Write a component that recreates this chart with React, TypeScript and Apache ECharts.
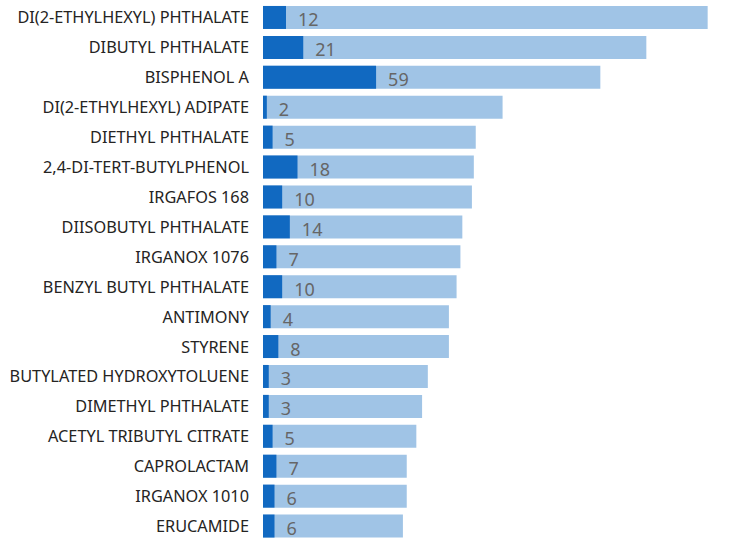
import React, { useEffect, useRef } from "react";
import * as echarts from "echarts";

const categories = [
  "DI(2-ETHYLHEXYL) PHTHALATE",
  "DIBUTYL PHTHALATE",
  "BISPHENOL A",
  "DI(2-ETHYLHEXYL) ADIPATE",
  "DIETHYL PHTHALATE",
  "2,4-DI-TERT-BUTYLPHENOL",
  "IRGAFOS 168",
  "DIISOBUTYL PHTHALATE",
  "IRGANOX 1076",
  "BENZYL BUTYL PHTHALATE",
  "ANTIMONY",
  "STYRENE",
  "BUTYLATED HYDROXYTOLUENE",
  "DIMETHYL PHTHALATE",
  "ACETYL TRIBUTYL CITRATE",
  "CAPROLACTAM",
  "IRGANOX 1010",
  "ERUCAMIDE",
];

const totalValues = [232, 200, 176, 125, 111, 110, 109, 104, 103, 101, 97, 97, 86, 83, 80, 75, 75, 73];
const highlightValues = [12, 21, 59, 2, 5, 18, 10, 14, 7, 10, 4, 8, 3, 3, 5, 7, 6, 6];

const FONT = "'Segoe UI', 'Noto Sans', 'Open Sans', sans-serif";

export default function App() {
  const ref = useRef<HTMLDivElement>(null);

  useEffect(() => {
    document.body.style.margin = "0";
    if (!ref.current) return;
    const chart = echarts.init(ref.current, undefined, { renderer: "svg" });
    chart.setOption({
      animation: false,
      backgroundColor: "#ffffff",
      grid: { left: 263, top: 2.5, width: 460, height: 540, containLabel: false },
      xAxis: {
        type: "value",
        min: 0,
        max: 240,
        show: false,
      },
      yAxis: {
        type: "category",
        data: categories,
        inverse: true,
        axisLine: { show: false },
        axisTick: { show: false },
        splitLine: { show: false },
        axisLabel: {
          margin: 14,
          fontSize: 16.3,
          fontFamily: FONT,
          color: "#252423",
        },
      },
      series: [
        {
          type: "bar",
          data: totalValues,
          barWidth: 23,
          barGap: "-100%",
          itemStyle: { color: "#A0C4E6" },
          silent: true,
        },
        {
          type: "bar",
          data: highlightValues,
          barWidth: 23,
          itemStyle: { color: "#1169C1" },
          label: {
            show: true,
            position: "right",
            distance: 12,
            offset: [0, 2],
            fontSize: 18,
            fontFamily: FONT,
            color: "#666666",
          },
        },
      ],
    });
    return () => chart.dispose();
  }, []);

  return <div ref={ref} style={{ width: 749, height: 541 }} />;
}
